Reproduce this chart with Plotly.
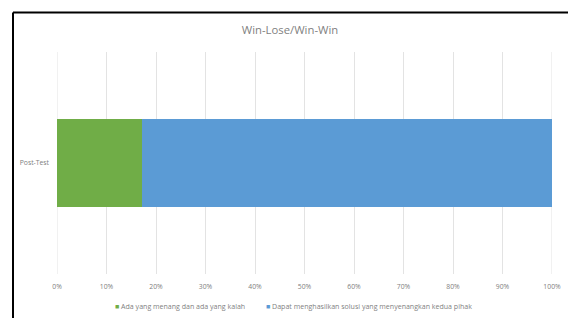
import plotly.graph_objects as go

categories = ["Post-Test"]
series_names = ["Ada yang menang dan ada yang kalah",
                "Dapat menghasilkan solusi yang menyenangkan kedua pihak"]
series_colors = ["#70AD47", "#5B9BD5"]
green_vals = [0.172]
blue_vals = [0.828]
tick_vals = [0, 0.1, 0.2, 0.3, 0.4, 0.5, 0.6, 0.7, 0.8, 0.9, 1.0]
tick_text = ["0%", "10%", "20%", "30%", "40%", "50%", "60%", "70%", "80%", "90%", "100%"]

fig = go.Figure()
for vals, name, col in zip([green_vals, blue_vals], series_names, series_colors):
    fig.add_trace(go.Bar(y=categories, x=vals, orientation="h", name=name, showlegend=False,
                         marker=dict(color=col, line=dict(width=0))))
# legend entries: small coloured square drawn as a glyph right before the text
for name, col, lw in zip(series_names, series_colors, [106, 220]):
    fig.add_trace(go.Scatter(x=[None], y=[None], mode="markers",
                             name=f"<span style='color:{col}'>■</span> {name}",
                             legendwidth=lw,
                             marker=dict(symbol="square", size=1, color="rgba(0,0,0,0)",
                                         line=dict(width=0))))

W, H = 568, 318
L, R, T, B = 57, 16, 52, 44
pw, ph = W - L - R, H - T - B

def px(x):
    return (x - L) / pw

def py(y):
    return 1 - (y - T) / ph

fig.update_layout(
    width=W, height=H, barmode="stack", bargap=0.6,
    margin=dict(l=L, r=R, t=T, b=B, pad=0, autoexpand=False),
    paper_bgcolor="white", plot_bgcolor="white",
    font=dict(family="Open Sans", color="#808080", size=7),
    title=dict(text="Win-Lose/Win-Win", x=290 / W, xref="container", xanchor="center",
               y=1 - 30 / H, yref="container", yanchor="middle",
               font=dict(size=11.3, color="#7f7f7f")),
    xaxis=dict(range=[0, 1], tickvals=tick_vals, ticktext=tick_text, showgrid=True,
               gridcolor="#e3e3e3", gridwidth=1, zeroline=False, showline=False,
               ticks="", tickfont=dict(size=6.8, color="#808080"), ticklabelstandoff=7,
               fixedrange=True),
    yaxis=dict(categoryorder="array", categoryarray=categories, range=[-0.5, 0.5],
               showgrid=False, zeroline=False, showline=False, ticks="",
               tickfont=dict(size=6.8, color="#808080"), ticklabelstandoff=7, fixedrange=True),
    legend=dict(orientation="h", x=px(75), xanchor="left", y=py(306), yanchor="middle",
                font=dict(size=7.05, color="#7f7f7f"), itemwidth=30, traceorder="normal",
                entrywidthmode="pixels", bgcolor="rgba(0,0,0,0)"),
    showlegend=True,
)

# edge gridlines (plotly drops gridlines lying exactly on the plot edges)
for v in (tick_vals[0], tick_vals[-1]):
    fig.add_shape(type="line", xref="x", yref="paper", x0=v, x1=v, y0=0, y1=1, layer="below",
                  line=dict(color="#e3e3e3", width=1))

fig.add_shape(type="line", xref="paper", yref="paper", x0=px(13), x1=px(570), y0=py(12.5), y1=py(12.5),
              line=dict(color="black", width=2))
fig.add_shape(type="line", xref="paper", yref="paper", x0=px(13), x1=px(13), y0=py(12.5), y1=py(320),
              line=dict(color="black", width=2))

fig.write_html("out.html", config={"displayModeBar": False},
               post_script="document.body.style.margin='0';document.body.style.overflow='hidden';")
